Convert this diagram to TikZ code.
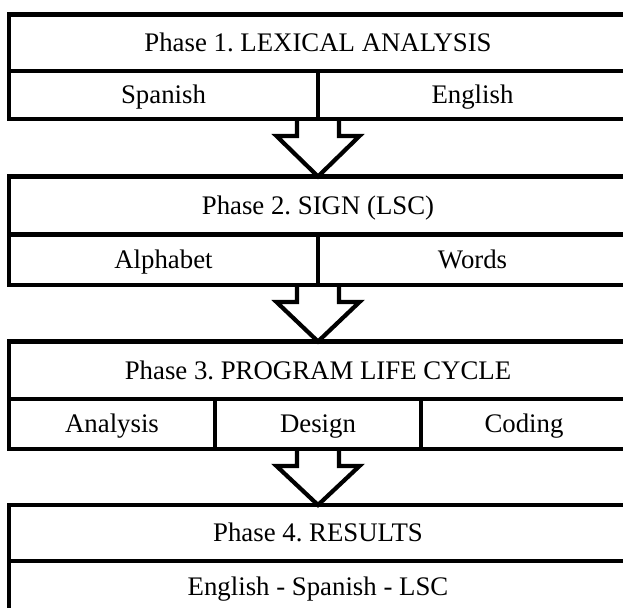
\documentclass[tikz,border=0pt]{standalone}
\usepackage{fontspec}
\setmainfont{Liberation Serif}
\usetikzlibrary{calc}
\frenchspacing
\tikzset{
  cell/.style={draw=black, line width=4.2pt, rectangle, inner sep=0pt, outer sep=0pt,
    anchor=north west, text height=17.7pt, text depth=0pt,
    font=\fontsize{26.8}{31}\selectfont},
  barrow/.style={draw=black, line width=4.2pt, line join=miter}
}
\newcommand\blockarrow[2]{%
  \coordinate (s#1) at (#2.north |- #1);
  \draw[barrow] ($(s#1)+(-21,0)$) -- ++(0,17) -- ++(-20.5,0) -- (#2.north)
     -- ($(s#1)+(41.5,17)$) -- ++(-20.5,0) -- ++(0,-17);
}
\begin{document}
\begin{tikzpicture}[x=1pt,y=-1pt]
\useasboundingbox (0,0) rectangle (623,607);
% Phase 1
\node[cell, minimum width=618pt, minimum height=56.2pt] (p1) at (9,14.5) {Phase 1. LEXICAL ANALYSIS};
\node[cell, minimum width=309pt, minimum height=48.3pt] (p1a) at (9,70.7) {Spanish};
\node[cell, minimum width=309pt, minimum height=48.3pt] (p1b) at (318,70.7) {English};
% Phase 2
\node[cell, minimum width=618pt, minimum height=58pt] (p2) at (9,176.5) {Phase 2. SIGN (LSC)};
\node[cell, minimum width=309pt, minimum height=50.5pt] (p2a) at (9,234.5) {Alphabet};
\node[cell, minimum width=309pt, minimum height=50.5pt] (p2b) at (318,234.5) {Words};
% Phase 3
\node[cell, minimum width=618pt, minimum height=57.5pt] (p3) at (9,341.5) {Phase 3. PROGRAM LIFE CYCLE};
\node[cell, minimum width=206pt, minimum height=50pt] (p3a) at (9,399) {Analysis};
\node[cell, minimum width=206pt, minimum height=50pt] (p3b) at (215,399) {Design};
\node[cell, minimum width=206pt, minimum height=50pt] (p3c) at (421,399) {Coding};
% Phase 4
\node[cell, minimum width=618pt, minimum height=56pt] (p4) at (9,505) {Phase 4. RESULTS};
\node[cell, minimum width=618pt, minimum height=51pt] (p4a) at (9,561) {English - Spanish - LSC};
% block arrows
\coordinate (b1) at (p1a.south east);
\coordinate (b2) at (p2a.south east);
\coordinate (b3) at (p3b.south);
\blockarrow{b1}{p2}
\blockarrow{b2}{p3}
\blockarrow{b3}{p4}
\end{tikzpicture}
\end{document}
